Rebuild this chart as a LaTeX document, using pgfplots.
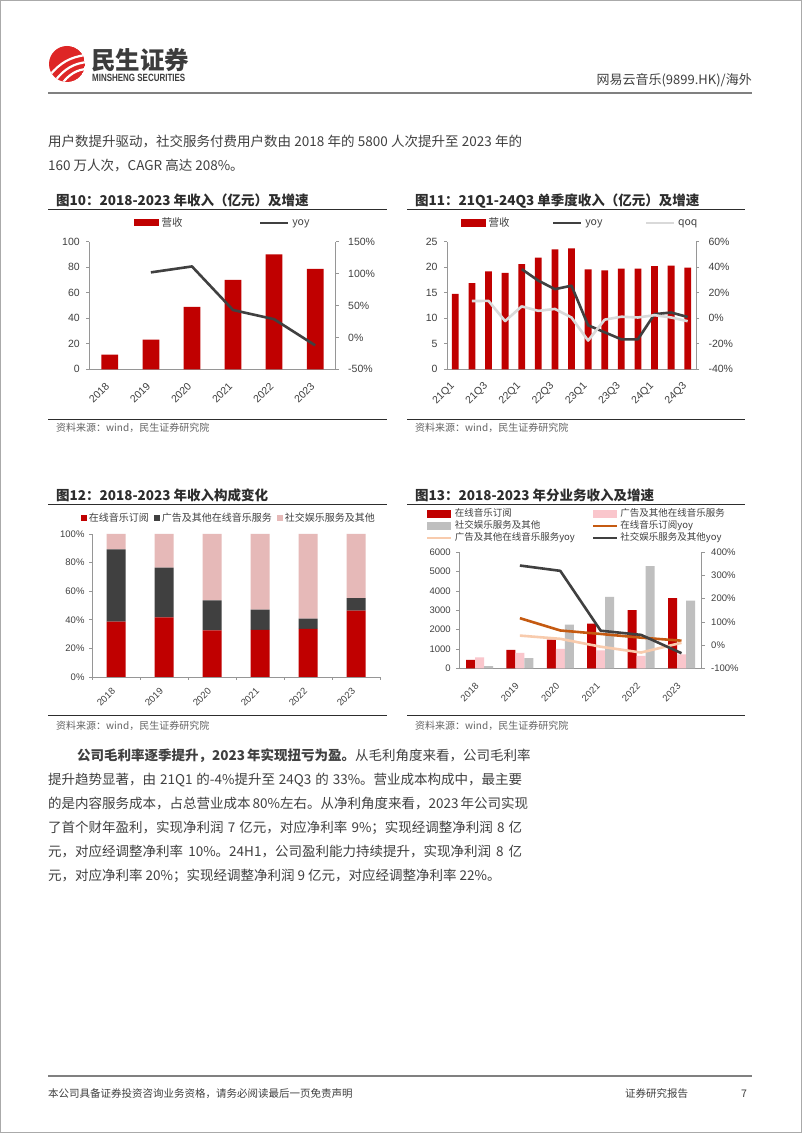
\documentclass[border=0pt]{standalone}
\usepackage{pgfplots}
\pgfplotsset{compat=1.18}
\usepackage{graphicx}
\usepackage{fontspec}
\setmainfont{Noto Sans CJK SC}
\newfontfamily\tf{Liberation Sans}
\XeTeXlinebreaklocale "zh"
\XeTeXlinebreakskip = 0pt plus 3pt
\definecolor{myred}{RGB}{192,0,0}
\definecolor{logored}{RGB}{222,38,38}
\definecolor{dgray}{RGB}{64,64,64}
\definecolor{lgray}{RGB}{217,217,217}
\definecolor{pinkc}{RGB}{230,185,184}
\definecolor{pinkd}{RGB}{250,198,204}
\definecolor{grayd}{RGB}{191,191,191}
\definecolor{orangec}{RGB}{197,90,17}
\definecolor{peachc}{RGB}{248,203,173}
\definecolor{txt}{RGB}{64,64,64}
\definecolor{ttl}{RGB}{45,45,45}
\definecolor{src}{RGB}{100,100,100}
\definecolor{axgray}{RGB}{150,150,150}
\definecolor{bordergray}{RGB}{170,170,170}
\definecolor{midgray}{RGB}{128,128,128}
\definecolor{logotxt}{RGB}{60,60,60}
\pgfplotsset{
  base/.style={scale only axis, clip=false,
    axis line style={draw=axgray, line width=0.7pt},
    tick style={draw=axgray, line width=0.7pt},
    tick align=outside, major tick length=3pt,
    /pgf/number format/assume math mode=true,
    ticklabel style={text=txt},
    xmin=-0.5, xmax=5.5},
}
\newcommand{\bodyfont}{\fontsize{13.5}{16}\selectfont}
\begin{document}
\begin{tikzpicture}[x=1pt,y=1pt]
\useasboundingbox (0,0) rectangle (802,1133);
\fill[white] (0,0) rectangle (802,1133);
\draw[bordergray, line width=1pt] (0.5,0.5) rectangle (801.5,1132.5);
% ---------- header ----------
\begin{scope}
\clip (67,1069) circle (18);
\fill[logored] (67,1069) circle (18);
\draw[white, line width=2.2pt] (50,1058) .. controls (60,1070) and (70,1076) .. (86,1078);
\draw[white, line width=2.2pt] (55,1052) .. controls (64,1064) and (74,1070) .. (88,1071);
\draw[white, line width=2.2pt] (61,1048) .. controls (68,1058) and (77,1064) .. (88,1064);
\end{scope}
\node[anchor=west, inner sep=0pt, font=\bfseries\fontsize{24.5}{24.5}\selectfont, text=logotxt] at (91,1072.5) {民生证券};
\node[anchor=west, inner sep=0pt, font=\tf\bfseries\fontsize{10.5}{10.5}\selectfont, text=logotxt] at (92,1055) {\scalebox{0.76}[1]{MINSHENG SECURITIES}};
\node[anchor=east, inner sep=0pt, font=\fontsize{13}{15}\selectfont, text=txt] at (752,1053) {网易云音乐(9899.HK)/海外};
\draw[midgray, line width=1.5pt] (48,1040) -- (752,1040);
% ---------- paragraph 1 ----------
\node[anchor=west, inner sep=0pt, font=\bodyfont, text=txt] at (48,991) {\makebox[474pt][s]{用户数提升驱动，社交服务付费用户数由 2018 年的 5800 人次提升至 2023 年的}};
\node[anchor=west, inner sep=0pt, font=\bodyfont, text=txt] at (48,967) {160 万人次，CAGR 高达 208\%。};
% ---------- chart titles ----------
\node[anchor=west, inner sep=0pt, font=\bfseries\fontsize{13.5}{16}\selectfont, text=ttl] at (56,932.3) {图10：2018-2023 年收入（亿元）及增速};
\draw[ttl, line width=0.8pt] (48,923.5) -- (387,923.5);
\node[anchor=west, inner sep=0pt, font=\bfseries\fontsize{13.5}{16}\selectfont, text=ttl] at (415,932.3) {图11：21Q1-24Q3 单季度收入（亿元）及增速};
\draw[ttl, line width=0.8pt] (407,923.5) -- (745,923.5);
\draw[ttl, line width=0.8pt] (48,714) -- (387,714);
\draw[ttl, line width=0.8pt] (407,714) -- (745,714);
\node[anchor=west, inner sep=0pt, font=\fontsize{10}{12}\selectfont, text=src] at (56,704.7) {资料来源：wind，民生证券研究院};
\node[anchor=west, inner sep=0pt, font=\fontsize{10}{12}\selectfont, text=src] at (415,704.7) {资料来源：wind，民生证券研究院};
\node[anchor=west, inner sep=0pt, font=\bfseries\fontsize{13.5}{16}\selectfont, text=ttl] at (56,638) {图12：2018-2023 年收入构成变化};
\draw[ttl, line width=0.8pt] (48,629) -- (387,629);
\node[anchor=west, inner sep=0pt, font=\bfseries\fontsize{13.5}{16}\selectfont, text=ttl] at (415,638) {图13：2018-2023 年分业务收入及增速};
\draw[ttl, line width=0.8pt] (407,629) -- (745,629);
\draw[ttl, line width=0.8pt] (48,418) -- (387,418);
\draw[ttl, line width=0.8pt] (407,418) -- (745,418);
\node[anchor=west, inner sep=0pt, font=\fontsize{10}{12}\selectfont, text=src] at (56,407.3) {资料来源：wind，民生证券研究院};
\node[anchor=west, inner sep=0pt, font=\fontsize{10}{12}\selectfont, text=src] at (415,407.3) {资料来源：wind，民生证券研究院};

% ================= Chart 1 =================
\begin{axis}[base, at={(89.3pt,763.7pt)}, anchor=south west, width=246.4pt, height=127.6pt,
  ymin=0, ymax=100, axis x line*=bottom, axis y line*=left,
  xtick={0,...,5}, xticklabels={2018,2019,2020,2021,2022,2023},
  xtick style={draw=none}, xticklabel shift=10pt, yticklabel shift=3pt,
  xticklabel style={rotate=45, anchor=east, font=\tf\fontsize{10.5}{12}\selectfont},
  ytick={0,20,40,60,80,100}, yticklabels={0,20,40,60,80,100},
  yticklabel style={font=\tf\fontsize{10.5}{12}\selectfont},
  legend columns=-1,
  legend style={at={(0.1814,1.1465)}, anchor=west, draw=none, fill=none, inner sep=0pt,
    font=\fontsize{10.5}{12}\selectfont, text=txt,
    /tikz/every even column/.append style={column sep=74pt},
    nodes={inner sep=0pt, inner xsep=2.5pt}},
]
\addplot[ybar, bar width=16.7pt, fill=myred, draw=none,
  legend image code/.code={\fill[myred] (0pt,-3.5pt) rectangle (25pt,4pt);}]
  coordinates {(0,11.5)(1,23.2)(2,49.0)(3,70.0)(4,90.0)(5,78.7)};
\addlegendentry{营收}
\addlegendimage{legend image code/.code={\draw[dgray, line width=2.6pt] (0pt,0pt) -- (28pt,0pt);}}
\addlegendentry{yoy}
\end{axis}
\begin{axis}[base, at={(89.3pt,763.7pt)}, anchor=south west, width=246.4pt, height=127.6pt,
  ymin=-50, ymax=150, axis x line=none, axis y line*=right, yticklabel shift=6pt,
  ytick={-50,0,50,100,150}, yticklabels={-50\%,0\%,50\%,100\%,150\%},
  yticklabel style={font=\tf\fontsize{10.5}{12}\selectfont},
]
\addplot[dgray, line width=2.6pt, line join=round] coordinates {(1,101.9)(2,111.2)(3,42.9)(4,28.5)(5,-12.5)};
\end{axis}

% ================= Chart 2 =================
\begin{axis}[base, at={(447pt,763.7pt)}, anchor=south west, width=249pt, height=127.6pt,
  xmin=-0.5, xmax=14.5,
  ymin=0, ymax=25, axis x line*=bottom, axis y line*=left,
  xtick={0,2,...,14}, xticklabels={21Q1,21Q3,22Q1,22Q3,23Q1,23Q3,24Q1,24Q3},
  xtick style={draw=none}, xticklabel shift=10pt, yticklabel shift=3pt,
  xticklabel style={rotate=45, anchor=east, font=\tf\fontsize{10.5}{12}\selectfont},
  ytick={0,5,10,15,20,25}, yticklabels={0,5,10,15,20,25},
  yticklabel style={font=\tf\fontsize{10.5}{12}\selectfont},
  legend columns=-1,
  legend style={at={(0.0562,1.1465)}, anchor=west, draw=none, fill=none, inner sep=0pt,
    font=\fontsize{10.5}{12}\selectfont, text=txt,
    /tikz/every even column/.append style={column sep=40pt},
    nodes={inner sep=0pt, inner xsep=2.5pt}},
]
\addplot[ybar, bar width=6.8pt, fill=myred, draw=none,
  legend image code/.code={\fill[myred] (0pt,-3.5pt) rectangle (25pt,4pt);}]
  coordinates {(0,14.8)(1,16.9)(2,19.2)(3,18.9)(4,20.6)(5,21.9)(6,23.5)(7,23.7)(8,19.6)(9,19.4)(10,19.7)(11,19.7)(12,20.2)(13,20.3)(14,19.9)};
\addlegendentry{营收}
\addlegendimage{legend image code/.code={\draw[dgray, line width=2.6pt] (0pt,0pt) -- (28pt,0pt);}}
\addlegendentry{yoy}
\addlegendimage{legend image code/.code={\draw[lgray, line width=2.6pt] (0pt,0pt) -- (28pt,0pt);}}
\addlegendentry{qoq}
\end{axis}
\begin{axis}[base, at={(447pt,763.7pt)}, anchor=south west, width=249pt, height=127.6pt,
  xmin=-0.5, xmax=14.5,
  ymin=-40, ymax=60, axis x line=none, axis y line*=right, yticklabel shift=6pt,
  ytick={-40,-20,0,20,40,60}, yticklabels={-40\%,-20\%,0\%,20\%,40\%,60\%},
  yticklabel style={font=\tf\fontsize{10.5}{12}\selectfont},
]
\addplot[dgray, line width=2.6pt, line join=round] coordinates {(4,38.5)(5,29.5)(6,22.8)(7,25.5)(8,-5.5)(9,-11)(10,-16.5)(11,-16.5)(12,3.2)(13,4.5)(14,1.0)};
\addplot[lgray, line width=2.6pt, line join=round] coordinates {(1,13.5)(2,13.6)(3,-2.2)(4,9.3)(5,5.8)(6,7.3)(7,0.6)(8,-17.5)(9,-1.1)(10,1.2)(11,0.6)(12,2.4)(13,0.6)(14,-2.3)};
\end{axis}

% ================= Chart 3 =================
\begin{axis}[base, at={(92pt,456pt)}, anchor=south west, width=288pt, height=143pt,
  ybar stacked, bar width=19pt,
  ymin=0, ymax=100, axis x line*=bottom, axis y line*=left,
  xtick={-0.5,0.5,1.5,2.5,3.5,4.5,5.5}, x tick label as interval,
  xticklabels={2018,2019,2020,2021,2022,2023}, xticklabel shift=7pt, yticklabel shift=1pt,
  xticklabel style={rotate=45, anchor=east, font=\tf\fontsize{9.5}{11}\selectfont},
  ytick={0,20,40,60,80,100}, yticklabels={0\%,20\%,40\%,60\%,80\%,100\%},
  yticklabel style={font=\tf\fontsize{9.5}{11}\selectfont},
  legend columns=-1,
  legend style={at={(-0.039,1.114)}, anchor=west, draw=none, fill=none, inner sep=0pt,
    font=\fontsize{10}{12}\selectfont, text=txt,
    /tikz/every even column/.append style={column sep=3pt},
    nodes={inner sep=0pt, inner xsep=2pt}},
]
\addplot[fill=myred, draw=none, legend image code/.code={\fill[myred] (0pt,-3pt) rectangle (6pt,3pt);}]
  coordinates {(0,38.8)(1,41.7)(2,32.6)(3,32.9)(4,33.6)(5,46.4)};
\addlegendentry{在线音乐订阅}
\addplot[fill=dgray, draw=none, legend image code/.code={\fill[dgray] (0pt,-3pt) rectangle (6pt,3pt);}]
  coordinates {(0,50.5)(1,34.8)(2,20.9)(3,14.2)(4,7.3)(5,8.7)};
\addlegendentry{广告及其他在线音乐服务}
\addplot[fill=pinkc, draw=none, legend image code/.code={\fill[pinkc] (0pt,-3pt) rectangle (6pt,3pt);}]
  coordinates {(0,10.7)(1,23.5)(2,46.5)(3,52.9)(4,59.1)(5,44.9)};
\addlegendentry{社交娱乐服务及其他}
\end{axis}

% ================= Chart 4 =================
\begin{axis}[base, at={(459.3pt,464.7pt)}, anchor=south west, width=242.4pt, height=116pt,
  ymin=0, ymax=6000, axis x line*=bottom, axis y line*=left,
  xtick={0,...,5}, xticklabels={2018,2019,2020,2021,2022,2023},
  xtick style={draw=none}, xticklabel shift=11pt, yticklabel shift=2pt,
  xticklabel style={rotate=45, anchor=east, font=\tf\fontsize{9.5}{11}\selectfont},
  ytick={0,1000,2000,3000,4000,5000,6000}, yticklabels={0,1000,2000,3000,4000,5000,6000},
  yticklabel style={font=\tf\fontsize{9.5}{11}\selectfont},
  legend columns=2, legend cell align=left,
  legend style={at={(-0.1374,1.225)}, anchor=west, draw=none, fill=none, inner sep=0pt,
    font=\fontsize{9.5}{11}\selectfont, text=txt,
    /tikz/every even column/.append style={column sep=15pt},
    nodes={inner sep=0pt, inner xsep=2pt, text height=8pt, text depth=4pt}},
]
\addplot[ybar, bar width=9pt, bar shift=-9pt, fill=myred, draw=none,
  legend image code/.code={\fill[myred] (0pt,-3.5pt) rectangle (24pt,4pt);}]
  coordinates {(0,440)(1,950)(2,1480)(3,2310)(4,3010)(5,3630)};
\addlegendentry{在线音乐订阅}
\addplot[ybar, bar width=9pt, bar shift=0pt, fill=pinkd, draw=none,
  legend image code/.code={\fill[pinkd] (0pt,-3.5pt) rectangle (24pt,4pt);}]
  coordinates {(0,570)(1,800)(2,1000)(3,930)(4,640)(5,720)};
\addlegendentry{广告及其他在线音乐服务}
\addplot[ybar, bar width=9pt, bar shift=9pt, fill=grayd, draw=none,
  legend image code/.code={\fill[grayd] (0pt,-3.5pt) rectangle (24pt,4pt);}]
  coordinates {(0,110)(1,530)(2,2260)(3,3690)(4,5290)(5,3500)};
\addlegendentry{社交娱乐服务及其他}
\addlegendimage{legend image code/.code={\draw[orangec, line width=2.6pt] (0pt,0pt) -- (24pt,0pt);}}
\addlegendentry{在线音乐订阅yoy}
\addlegendimage{legend image code/.code={\draw[peachc, line width=2.6pt] (0pt,0pt) -- (24pt,0pt);}}
\addlegendentry{广告及其他在线音乐服务yoy}
\addlegendimage{legend image code/.code={\draw[dgray, line width=2.6pt] (0pt,0pt) -- (24pt,0pt);}}
\addlegendentry{社交娱乐服务及其他yoy}
\end{axis}
\begin{axis}[base, at={(459.3pt,464.7pt)}, anchor=south west, width=242.4pt, height=116pt,
  ymin=-100, ymax=400, axis x line=none, axis y line*=right, yticklabel shift=3pt,
  ytick={-100,0,100,200,300,400}, yticklabels={-100\%,0\%,100\%,200\%,300\%,400\%},
  yticklabel style={font=\tf\fontsize{9.5}{11}\selectfont},
]
\addplot[orangec, line width=2.6pt, line join=round] coordinates {(1,116)(2,63)(3,48)(4,32)(5,19)};
\addplot[peachc, line width=2.6pt, line join=round] coordinates {(1,41)(2,27)(3,-7)(4,-32)(5,10)};
\addplot[dgray, line width=2.6pt, line join=round] coordinates {(1,343)(2,320)(3,62)(4,44)(5,-35)};
\end{axis}

% ---------- paragraph 2 ----------
\node[anchor=west, inner sep=0pt, font=\bodyfont, text=txt] at (77,377) {\makebox[445pt][s]{\textbf{公司毛利率逐季提升，2023 年实现扭亏为盈。}从毛利角度来看，公司毛利率}};
\node[anchor=west, inner sep=0pt, font=\bodyfont, text=txt] at (48,353) {\makebox[474pt][s]{提升趋势显著，由 21Q1 的-4\%提升至 24Q3 的 33\%。营业成本构成中，最主要}};
\node[anchor=west, inner sep=0pt, font=\bodyfont, text=txt] at (48,329) {\makebox[474pt][s]{的是内容服务成本，占总营业成本 80\%左右。从净利角度来看，2023 年公司实现}};
\node[anchor=west, inner sep=0pt, font=\bodyfont, text=txt] at (48,305) {\makebox[474pt][s]{了首个财年盈利，实现净利润 7 亿元，对应净利率 9\%；实现经调整净利润 8 亿}};
\node[anchor=west, inner sep=0pt, font=\bodyfont, text=txt] at (48,281) {\makebox[474pt][s]{元，对应经调整净利率 10\%。24H1，公司盈利能力持续提升，实现净利润 8 亿}};
\node[anchor=west, inner sep=0pt, font=\bodyfont, text=txt] at (48,257) {元，对应净利率 20\%；实现经调整净利润 9 亿元，对应经调整净利率 22\%。};
% ---------- footer ----------
\draw[midgray, line width=1.2pt] (48,57) -- (752,57);
\node[anchor=west, inner sep=0pt, font=\fontsize{10.5}{12}\selectfont, text=txt] at (48,39) {本公司具备证券投资咨询业务资格，请务必阅读最后一页免责声明};
\node[anchor=west, inner sep=0pt, font=\fontsize{10.5}{12}\selectfont, text=txt] at (625,39) {证券研究报告};
\node[anchor=west, inner sep=0pt, font=\fontsize{10.5}{12}\selectfont, text=txt] at (741,39) {7};
\end{tikzpicture}
\end{document}
